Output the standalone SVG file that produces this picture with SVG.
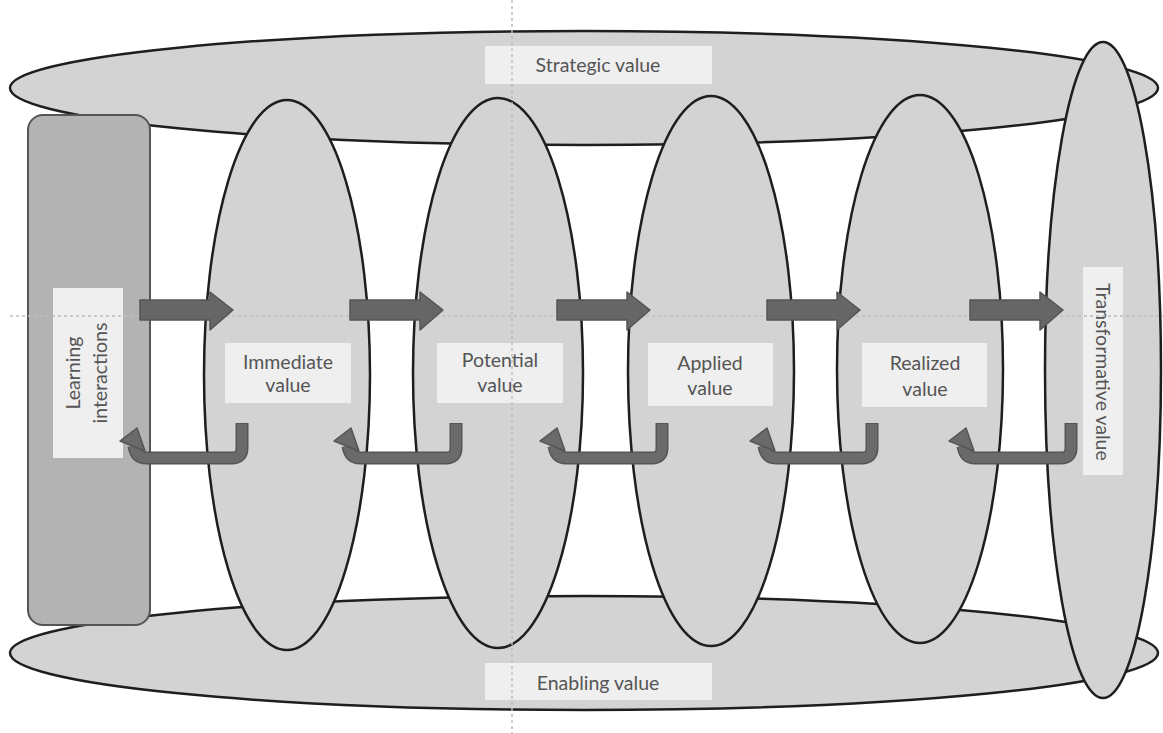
<svg xmlns="http://www.w3.org/2000/svg" width="1163" height="733" viewBox="0 0 1163 733">
<style>
.el{fill:#d3d3d3;stroke:#1e1e1e;stroke-width:2.5}
.box{fill:#efefef}
.t{font-family:Lato,"Open Sans","Liberation Sans",sans-serif;font-size:19.5px;fill:#555;text-anchor:middle}
.fa{fill:#666;stroke:#555;stroke-width:1.5;stroke-linejoin:round}
.ra{fill:none;stroke:#555;stroke-width:13;stroke-linecap:butt;stroke-linejoin:round}
.ri{fill:none;stroke:#6a6a6a;stroke-width:10;stroke-linejoin:round}
.rh{fill:#6a6a6a;stroke:#555;stroke-width:1.5;stroke-linejoin:round}
.guide{stroke:#bdbdbd;stroke-width:1.5;stroke-dasharray:3 3;fill:none}
</style>
<defs>
<polygon id="fwd" points="0,300 70,300 70,292 93,310 70,330 70,320 0,320"/>
<g id="ret">
<path class="ra" d="M0,423 V448 Q0,458 -10,458 H-96 Q-106,458 -108,446"/>
<path class="ri" d="M0,424 V448 Q0,458 -10,458 H-96 Q-106,458 -108,446"/>
<polygon class="rh" points="-122,441 -105,428 -97,451"/>
</g>
</defs>
<rect width="1163" height="733" fill="#fff"/>
<g id="strategic">
<ellipse class="el" cx="584" cy="88" rx="574" ry="57"/>
<rect class="box" x="485" y="46" width="227" height="38"/>
<text class="t" x="598" y="72">Strategic value</text>
</g>
<g id="enabling">
<ellipse class="el" cx="584" cy="653" rx="574" ry="57"/>
<rect class="box" x="485" y="663" width="227" height="37"/>
<text class="t" x="598" y="690">Enabling value</text>
</g>
<g id="learning">
<rect x="28" y="115" width="122" height="510" rx="15" fill="#b3b3b3" stroke="#555" stroke-width="2"/>
<rect class="box" x="53" y="288" width="70" height="170"/>
<text class="t" transform="translate(88,373) rotate(-90)"><tspan x="0" y="-8">Learning</tspan><tspan x="0" y="19">interactions</tspan></text>
</g>
<g id="immediate">
<ellipse class="el" cx="287" cy="375" rx="83" ry="275"/>
<rect class="box" x="225" y="343" width="126" height="60"/>
<text class="t"><tspan x="288" y="369">Immediate</tspan><tspan x="288" y="392">value</tspan></text>
</g>
<g id="potential">
<ellipse class="el" cx="498" cy="373" rx="85" ry="275"/>
<rect class="box" x="437" y="343" width="126" height="60"/>
<text class="t"><tspan x="500" y="367">Potential</tspan><tspan x="500" y="392">value</tspan></text>
</g>
<g id="applied">
<ellipse class="el" cx="711" cy="371" rx="83" ry="275"/>
<rect class="box" x="648" y="343" width="125" height="63"/>
<text class="t"><tspan x="710" y="370">Applied</tspan><tspan x="710" y="395">value</tspan></text>
</g>
<g id="realized">
<ellipse class="el" cx="920" cy="369" rx="83" ry="274"/>
<rect class="box" x="862" y="343" width="125" height="64"/>
<text class="t"><tspan x="925" y="370">Realized</tspan><tspan x="925" y="396">value</tspan></text>
</g>
<g id="transformative">
<ellipse class="el" cx="1103" cy="370" rx="58" ry="328"/>
<rect class="box" x="1083" y="267" width="40" height="208"/>
<text class="t" transform="translate(1103,372) rotate(90)" x="0" y="7">Transformative value</text>
</g>
<g id="guides">
<line class="guide" x1="10" y1="316" x2="1163" y2="316"/>
<line class="guide" x1="512" y1="0" x2="512" y2="733"/>
</g>
<g id="connectors">
<use href="#fwd" class="fa" x="140"/>
<use href="#fwd" class="fa" x="350"/>
<use href="#fwd" class="fa" x="557"/>
<use href="#fwd" class="fa" x="767"/>
<use href="#fwd" class="fa" x="970"/>
<use href="#ret" x="242"/>
<use href="#ret" x="456"/>
<use href="#ret" x="662"/>
<use href="#ret" x="872"/>
<use href="#ret" x="1071"/>
</g>
</svg>
